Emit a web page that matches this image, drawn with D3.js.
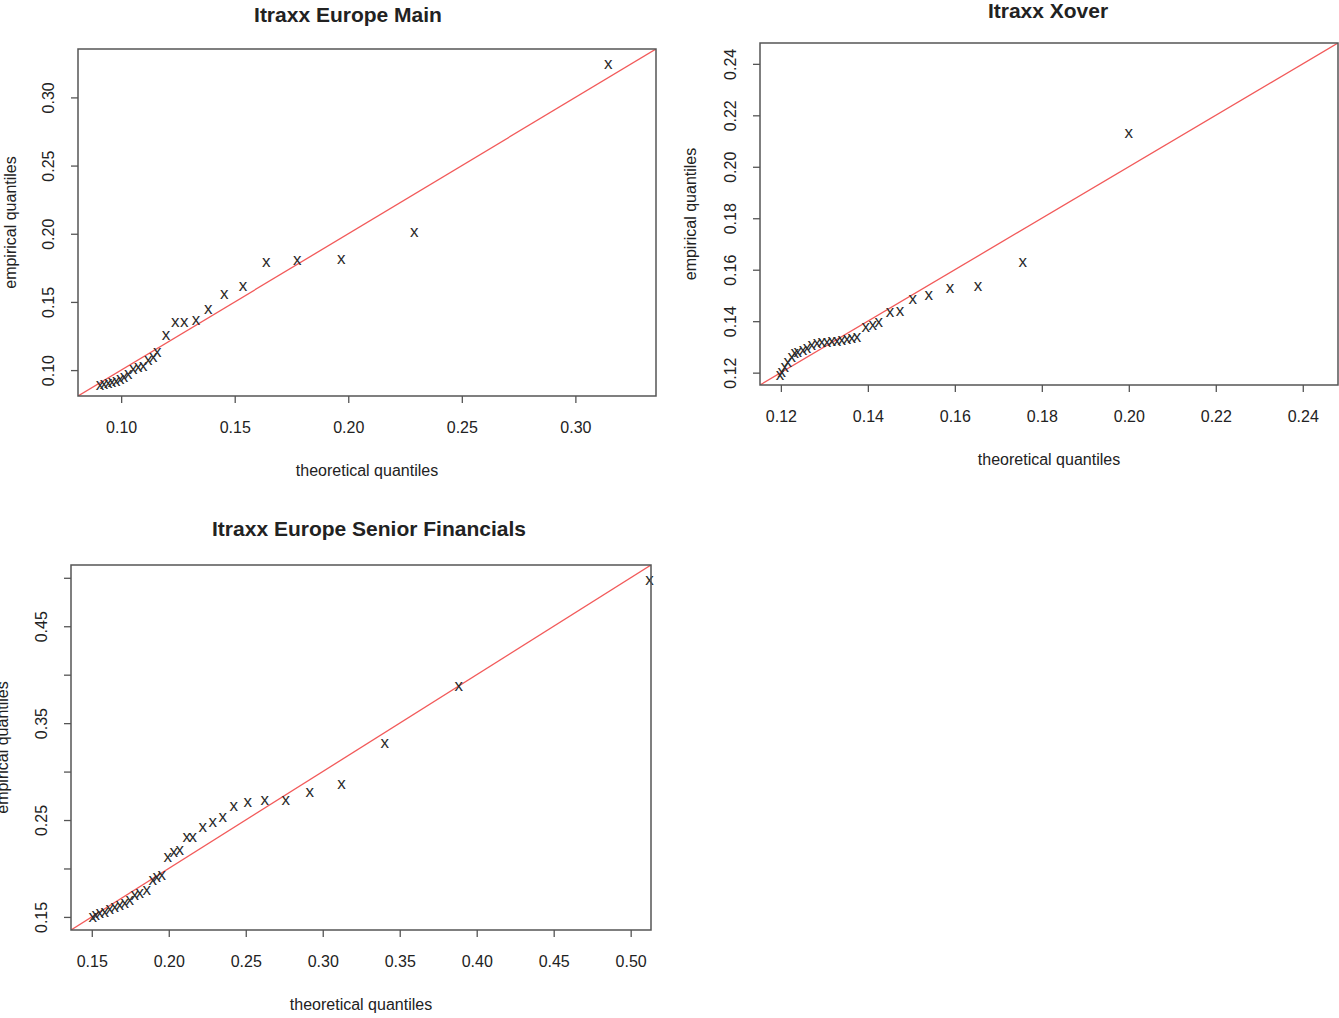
<!DOCTYPE html>
<html>
<head>
<meta charset="utf-8">
<script src="https://cdn.jsdelivr.net/npm/d3@7"></script>
<style>
  body { margin: 0; background: #fff; }
  text { font-family: "Liberation Sans", Arial, sans-serif; fill: #222; }
</style>
</head>
<body>
<div id="chart"></div>
<script>
var w = 1339;
var h = 1018;

// Itraxx Europe Main
var mainTheo = [0.3145, 0.2291, 0.1969, 0.1775, 0.1639, 0.1537, 0.1454, 0.1383, 0.1330, 0.1278,
                0.1238, 0.1198, 0.1159, 0.1141, 0.1119, 0.1097, 0.1075, 0.1053, 0.1031, 0.1013,
                0.0996, 0.0978, 0.0960, 0.0943, 0.0925, 0.0907];
var mainEmp  = [0.3247, 0.2018, 0.1820, 0.1813, 0.1798, 0.1622, 0.1564, 0.1454, 0.1373, 0.1359,
                0.1359, 0.1264, 0.1139, 0.1102, 0.1080, 0.1037, 0.1029, 0.1015, 0.0978, 0.0956,
                0.0941, 0.0927, 0.0919, 0.0912, 0.0905, 0.0898];
var mainTicks = [0.10, 0.15, 0.20, 0.25, 0.30];

// Itraxx Xover
var xoverTheo = [0.2000, 0.1756, 0.1653, 0.1589, 0.1540, 0.1503, 0.1474, 0.1451, 0.1425, 0.1411,
                 0.1395, 0.1375, 0.1363, 0.1352, 0.1340, 0.1329, 0.1317, 0.1306, 0.1294, 0.1283,
                 0.1271, 0.1260, 0.1251, 0.1239, 0.1232, 0.1225, 0.1216, 0.1209, 0.1202, 0.1198];
var xoverEmp  = [0.2132, 0.1631, 0.1538, 0.1530, 0.1503, 0.1487, 0.1441, 0.1437, 0.1398, 0.1386,
                 0.1379, 0.1340, 0.1336, 0.1332, 0.1328, 0.1324, 0.1324, 0.1320, 0.1320, 0.1317,
                 0.1309, 0.1297, 0.1289, 0.1282, 0.1278, 0.1262, 0.1243, 0.1223, 0.1204, 0.1192];
var xoverTicks = [0.12, 0.14, 0.16, 0.18, 0.20, 0.22, 0.24];

// Itraxx Europe Senior Financials
var finTheo = [0.5123, 0.3883, 0.3403, 0.3122, 0.2916, 0.2760, 0.2623, 0.2513, 0.2422, 0.2351,
               0.2286, 0.2221, 0.2156, 0.2117, 0.2071, 0.2032, 0.1994, 0.1955, 0.1922, 0.1896,
               0.1857, 0.1812, 0.1779, 0.1747, 0.1714, 0.1682, 0.1649, 0.1617, 0.1584, 0.1552,
               0.1526, 0.1506];
var finEmp  = [0.4986, 0.3890, 0.3300, 0.2876, 0.2793, 0.2710, 0.2710, 0.2690, 0.2648, 0.2534,
               0.2482, 0.2431, 0.2327, 0.2327, 0.2193, 0.2172, 0.2121, 0.1934, 0.1914, 0.1883,
               0.1779, 0.1748, 0.1728, 0.1676, 0.1645, 0.1624, 0.1603, 0.1583, 0.1552, 0.1541,
               0.1521, 0.1500];
var finTicks = [0.15, 0.20, 0.25, 0.30, 0.35, 0.40, 0.45, 0.50];
var finYLabels = ["0.15", "0.25", "0.35", "0.45"];

var svg = d3.select("#chart")
    .append("svg")
    .attr("width", w)
    .attr("height", h);

var panels = [
  { title: "Itraxx Europe Main", theo: mainTheo, emp: mainEmp, ticks: mainTicks,
    lim: [0.081, 0.3355], box: [78, 49, 656, 396], titleX: 348, titleY: 14, yLabelX: 10, yLabels: null },
  { title: "Itraxx Xover", theo: xoverTheo, emp: xoverEmp, ticks: xoverTicks,
    lim: [0.1152, 0.2481], box: [760, 43, 1338, 385], titleX: 1048, titleY: 10, yLabelX: 690, yLabels: null },
  { title: "Itraxx Europe Senior Financials", theo: finTheo, emp: finEmp, ticks: finTicks,
    lim: [0.1365, 0.5132], box: [71, 565, 651, 930], titleX: 369, titleY: 528, yLabelX: 2, yLabels: finYLabels }
];

panels.forEach(function(p, i) {
  var x0 = p.box[0], y0 = p.box[1], x1 = p.box[2], y1 = p.box[3];
  var xScale = d3.scaleLinear().domain(p.lim).range([x0, x1]);
  var yScale = d3.scaleLinear().domain(p.lim).range([y1, y0]);
  var f = d3.format(".2f");

  var g = svg.append("g");

  // clip for the reference line
  svg.append("clipPath").attr("id", "clip" + i)
    .append("rect")
    .attr("x", x0).attr("y", y0)
    .attr("width", x1 - x0).attr("height", y1 - y0);

  // 45 degree line
  g.append("line")
    .attr("clip-path", "url(#clip" + i + ")")
    .attr("x1", xScale(p.lim[0])).attr("y1", yScale(p.lim[0]))
    .attr("x2", xScale(p.lim[1])).attr("y2", yScale(p.lim[1]))
    .style("stroke", "#f25a5a")
    .style("stroke-width", 1.3);

  // points drawn as "x"
  g.selectAll("text.pt")
    .data(p.theo)
    .enter().append("text")
    .attr("class", "pt")
    .attr("x", function(d) { return xScale(d); })
    .attr("y", function(d, j) { return yScale(p.emp[j]); })
    .attr("text-anchor", "middle")
    .attr("dominant-baseline", "central")
    .style("font-size", "17px")
    .style("fill", "#2a2a2a")
    .text("x");

  // box
  g.append("rect")
    .attr("x", x0).attr("y", y0)
    .attr("width", x1 - x0).attr("height", y1 - y0)
    .style("fill", "none")
    .style("stroke", "#555")
    .style("stroke-width", 1.5);

  // x axis
  var xAxis = g.append("g")
    .attr("transform", "translate(0," + y1 + ")")
    .call(d3.axisBottom(xScale).tickValues(p.ticks).tickFormat(f).tickSize(7).tickPadding(19));
  xAxis.select(".domain").remove();
  xAxis.selectAll("line").style("stroke", "#555").style("stroke-width", 1.3);
  xAxis.selectAll("text").style("font-size", "16px").style("font-family", "Liberation Sans, Arial, sans-serif").style("fill", "#222");

  // y axis, labels rotated like R
  var yAxis = g.append("g")
    .attr("transform", "translate(" + x0 + ",0)")
    .call(d3.axisLeft(yScale).tickValues(p.ticks).tickSize(7)
      .tickFormat(function(d) {
        var s = f(d);
        if (p.yLabels && p.yLabels.indexOf(s) < 0) return "";
        return s;
      }));
  yAxis.select(".domain").remove();
  yAxis.selectAll("line").style("stroke", "#555").style("stroke-width", 1.3);
  yAxis.selectAll("text")
    .attr("x", null).attr("dy", null)
    .attr("transform", "translate(-30,0) rotate(-90)")
    .attr("text-anchor", "middle")
    .attr("dominant-baseline", "central")
    .style("font-size", "16px")
    .style("font-family", "Liberation Sans, Arial, sans-serif")
    .style("fill", "#222");

  // titles
  svg.append("text")
    .attr("x", p.titleX)
    .attr("y", p.titleY)
    .attr("text-anchor", "middle")
    .attr("dominant-baseline", "central")
    .style("font-size", "21px")
    .style("font-weight", "bold")
    .text(p.title);

  svg.append("text")
    .attr("x", (x0 + x1) / 2)
    .attr("y", y1 + 74)
    .attr("text-anchor", "middle")
    .attr("dominant-baseline", "central")
    .style("font-size", "16px")
    .text("theoretical quantiles");

  svg.append("text")
    .attr("transform", "translate(" + p.yLabelX + "," + (y0 + y1) / 2 + ") rotate(-90)")
    .attr("text-anchor", "middle")
    .attr("dominant-baseline", "central")
    .style("font-size", "16px")
    .text("empirical quantiles");
});
</script>
</body>
</html>
